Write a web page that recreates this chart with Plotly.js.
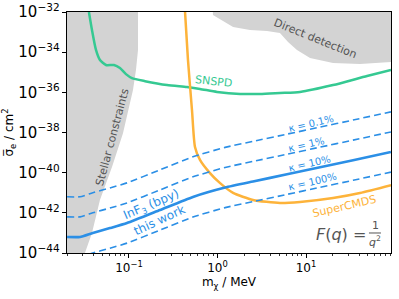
<!DOCTYPE html>
<html>
<head>
<meta charset="utf-8">
<script src="https://cdn.plot.ly/plotly-3.0.1.min.js"></script>
<style>html,body{margin:0;padding:0;background:#fff;}#chart{width:399px;height:299px;}</style>
</head>
<body>
<div id="chart"></div>
<script>
// Stellar constraints region boundary (mass in MeV, cross-section in cm^2)
const stellarX = [0.01, 0.1265, 0.1265, 0.120, 0.111, 0.105, 0.0856, 0.0643, 0.0470, 0.0382, 0.0318, 0.0290, 0.01];
const stellarY = [1e-31, 1e-31, 1.3e-34, 1.3e-35, 1.3e-36, 4.2e-37, 9.3e-39, 1.9e-40, 4.4e-42, 9.8e-44, 1e-44, 1e-45, 1e-45];

// Direct detection region boundary
const directX = [0.87, 0.889, 1.50, 2.33, 3.62, 5.08, 6.26, 7.91, 11.1, 20.2, 40.7, 91.2, 200, 200, 0.87];
const directY = [1e-31, 7.1e-33, 1.78e-33, 1.26e-33, 1.12e-33, 8.9e-34, 3.2e-34, 1.29e-34, 5.1e-35, 2.9e-35, 2.6e-35, 3.2e-35, 3.2e-35, 1e-31, 1e-31];

// SNSPD
const snspdX = [0.0353, 0.0382, 0.0424, 0.0470, 0.0549, 0.0677, 0.0791, 0.0925, 0.108, 0.152, 0.269, 0.452, 0.634, 0.987, 1.80, 3.02, 5.08, 8.55, 20.2, 48.9, 91.2];
const snspdY = [1e-32, 1.27e-33, 1.29e-34, 4.1e-35, 2.3e-35, 2.3e-35, 1.62e-35, 8.1e-36, 5.1e-36, 3.6e-36, 2.3e-36, 1.82e-36, 1.48e-36, 1.05e-36, 8.3e-37, 8.3e-37, 9.3e-37, 1.05e-36, 2.3e-36, 6.5e-36, 1.29e-35];

// SuperCMDS
const cmdsX = [0.430, 0.464, 0.515, 0.557, 0.634, 0.822, 1.07, 1.50, 2.52, 5.08, 8.55, 20.2, 40.7, 91.2];
const cmdsY = [1e-32, 4.1e-35, 1.32e-37, 1.9e-39, 4.3e-40, 9.5e-41, 3.0e-41, 9.8e-42, 4.4e-42, 3.1e-42, 3.5e-42, 5.5e-42, 9.8e-42, 2.4e-41];

// InF3 (bpy) projections
const infX = [0.02, 0.028, 0.039, 0.061, 0.095, 0.224, 0.528, 1.22, 2.52, 6.1, 14.4, 34, 91];
const kappa01Y  = [6.3e-42, 6.3e-42, 1.0e-41, 1.74e-41, 3.1e-41, 1.38e-40, 6.2e-40, 1.82e-39, 3.63e-39, 8.3e-39, 1.86e-38, 4.17e-38, 1.07e-37];
const kappa1Y   = [6.3e-43, 6.3e-43, 1.0e-42, 1.74e-42, 3.1e-42, 1.38e-41, 6.2e-41, 1.82e-40, 3.63e-40, 8.3e-40, 1.86e-39, 4.17e-39, 1.07e-38];
const kappa10Y  = [6.3e-44, 6.3e-44, 1.0e-43, 1.74e-43, 3.1e-43, 1.38e-42, 6.2e-42, 1.82e-41, 3.63e-41, 8.3e-41, 1.86e-40, 4.17e-40, 1.07e-39];
const kappa100Y = [6.3e-45, 6.3e-45, 1.0e-44, 1.74e-44, 3.1e-44, 1.38e-43, 6.2e-43, 1.82e-42, 3.63e-42, 8.3e-42, 1.86e-41, 4.17e-41, 1.07e-40];

// Axis ticks
const xTickVals = [0.1, 1, 10];
const xTickText = ['10<sup>−1</sup>', '10<sup>0</sup>', '10<sup>1</sup>'];
const xMinorVals = [0.02, 0.03, 0.04, 0.05, 0.06, 0.07, 0.08, 0.09, 0.2, 0.3, 0.4, 0.5, 0.6, 0.7, 0.8, 0.9,
                    2, 3, 4, 5, 6, 7, 8, 9, 20, 30, 40, 50, 60, 70, 80, 90];

const BLUE = '#2b8fe6', GREEN = '#35c992', ORANGE = '#fdb33a', GRAY = '#d3d3d3', TXT = '#555555';
const FONT = 'DejaVu Sans';

const traces = [
  {x: stellarX, y: stellarY, mode: 'lines', fill: 'toself', fillcolor: GRAY, line: {width: 0, color: GRAY}, hoverinfo: 'skip'},
  {x: directX, y: directY, mode: 'lines', fill: 'toself', fillcolor: GRAY, line: {width: 0, color: GRAY}, hoverinfo: 'skip'},
  {x: snspdX, y: snspdY, mode: 'lines', line: {color: GREEN, width: 2.5, shape: 'spline', smoothing: 0.6}},
  {x: cmdsX, y: cmdsY, mode: 'lines', line: {color: ORANGE, width: 2.5, shape: 'spline', smoothing: 0.6}},
  {x: infX, y: kappa01Y, mode: 'lines', line: {color: BLUE, width: 1.6, dash: '7px,4px', shape: 'spline', smoothing: 0.5}},
  {x: infX, y: kappa1Y, mode: 'lines', line: {color: BLUE, width: 1.6, dash: '7px,4px', shape: 'spline', smoothing: 0.5}},
  {x: infX, y: kappa10Y, mode: 'lines', line: {color: BLUE, width: 2.6, shape: 'spline', smoothing: 0.5}},
  {x: infX, y: kappa100Y, mode: 'lines', line: {color: BLUE, width: 1.6, dash: '7px,4px', shape: 'spline', smoothing: 0.5}}
];

function ann(text, x, y, angle, color, size) {
  return {text: text, xref: 'paper', yref: 'paper', x: x, y: y, textangle: angle,
    showarrow: false, xanchor: 'center', yanchor: 'middle', font: {family: FONT, size: size, color: color}};
}

const layout = {
  width: 399, height: 299,
  margin: {l: 67, r: 8, t: 12, b: 46},
  paper_bgcolor: '#fff', plot_bgcolor: '#fff',
  showlegend: false,
  font: {family: FONT, size: 12, color: '#000'},
  xaxis: {
    type: 'log', range: [-1.70, 1.96], tickmode: 'array', tickvals: xTickVals, ticktext: xTickText,
    showgrid: false, zeroline: false, showline: true, linecolor: '#000', linewidth: 1, mirror: true,
    ticks: 'outside', ticklen: 4, tickwidth: 1, tickcolor: '#000',
    minor: {tickmode: 'array', tickvals: xMinorVals, ticks: 'outside', ticklen: 2, tickwidth: 0.8, tickcolor: '#000', showgrid: false},
    tickfont: {family: FONT, size: 12, color: '#000'},
    title: {text: 'm<sub>χ</sub> / MeV', font: {family: FONT, size: 12, color: '#000'}, standoff: 3}
  },
  yaxis: {
    type: 'log', range: [-44, -32], dtick: 2, exponentformat: 'power',
    showgrid: false, zeroline: false, showline: true, linecolor: '#000', linewidth: 1, mirror: true,
    ticks: 'outside', ticklen: 4, tickwidth: 1, tickcolor: '#000',
    tickfont: {family: FONT, size: 12, color: '#000'},
    title: {text: 'σ\u0305<sub>e</sub> / cm<sup>2</sup>', font: {family: FONT, size: 12, color: '#000'}, standoff: 4}
  },
  annotations: [
    ann('Stellar constraints', 0.139, 0.481, -75, TXT, 11),
    ann('Direct detection', 0.765, 0.888, 22, TXT, 11),
    ann('SNSPD', 0.451, 0.710, 6, GREEN, 11),
    ann('SuperCMDS', 0.855, 0.191, -13, ORANGE, 11),
    ann('κ = 0.1%', 0.753, 0.539, -13, BLUE, 10),
    ann('κ = 1%', 0.738, 0.452, -13, BLUE, 10),
    ann('κ = 10%', 0.747, 0.373, -13, BLUE, 10),
    ann('κ = 100%', 0.759, 0.295, -13, BLUE, 10),
    ann('InF<sub>3</sub> (bpy)', 0.262, 0.199, -23, BLUE, 12),
    ann('this work', 0.287, 0.137, -25, BLUE, 12),
    ann('<i>F</i>(<i>q</i>) =', 0.846, 0.075, 0, TXT, 16),
    ann('1', 0.951, 0.115, 0, TXT, 11),
    ann('<i>q</i><sup>2</sup>', 0.951, 0.048, 0, TXT, 11)
  ],
  shapes: [
    {type: 'line', xref: 'paper', yref: 'paper', x0: 0.932, x1: 0.969, y0: 0.083, y1: 0.083, line: {color: TXT, width: 1}}
  ]
};

Plotly.newPlot('chart', traces, layout, {staticPlot: true, displayModeBar: false});
</script>
</body>
</html>
